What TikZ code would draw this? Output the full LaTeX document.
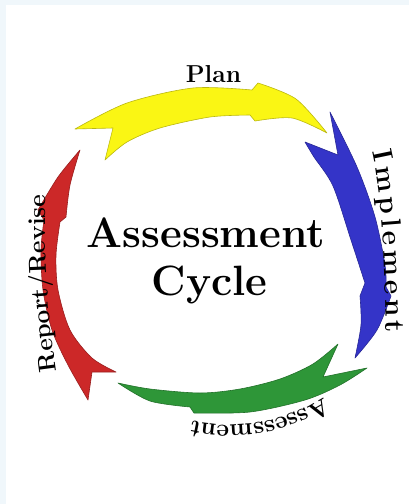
\documentclass[tikz,border=0pt]{standalone}
\usetikzlibrary{decorations.text}

\definecolor{framecol}{RGB}{240,247,251}
\definecolor{planyellow}{RGB}{250,246,20}
\definecolor{implblue}{RGB}{52,52,200}
\definecolor{assessgreen}{RGB}{46,150,56}
\definecolor{revisered}{RGB}{204,40,40}

\newcommand\titlefont{\fontsize{42.4}{48}\selectfont\bfseries}
\newcommand\labelfont{\fontsize{24.5}{29}\selectfont\bfseries}
\newcommand\biglabelfont{\fontsize{28}{33}\selectfont\bfseries}

\begin{document}
\begin{tikzpicture}[x=1pt, y=-1pt,
  stage/.style={fill=#1, draw=#1!75!black, line width=0.6pt, line join=round},
  steplabel/.style={decorate, decoration={text along path, text align=center,
      text={|\labelfont|#1}}}]

  % light frame on the top and left, white sheet
  \fill[framecol] (0,0) rectangle (409,504);
  \fill[white] (6,5) rectangle (409,504);
  \useasboundingbox (0,0) rectangle (409,504);

  % Plan arrow (yellow, top)
  \fill[stage=planyellow] (75,129)
    -- plot[smooth] coordinates {(75,129) (127,103) (193,88) (252,90)}
    -- (258,83)
    -- plot[smooth] coordinates {(258,83) (296,99) (327,133)}
    -- plot[smooth] coordinates {(327,133) (292,118) (255,121)}
    -- (250,115)
    -- plot[smooth] coordinates {(250,115) (210,117) (160,128) (127,142) (105,160)}
    -- (113,128) -- cycle;

  % Implement arrow (blue, right)
  \fill[stage=implblue] (330,112)
    -- plot[smooth] coordinates {(330,112) (357,167) (375,217) (385,265) (386,287)}
    -- (391,296)
    -- plot[smooth] coordinates {(391,296) (377,330) (355,358)}
    -- plot[smooth] coordinates {(355,358) (361,325) (360,296)}
    -- (365,283)
    -- plot[smooth] coordinates {(365,283) (351,240) (333,186) (314,157) (305,142)}
    -- (338,155) -- cycle;

  % Assessment arrow (green, bottom)
  \fill[stage=assessgreen] (338,344)
    -- plot[smooth] coordinates {(338,344) (313,364) (280,379) (240,389) (200,393) (150,389) (118,383)}
    -- plot[smooth] coordinates {(118,383) (150,401) (190,407)}
    -- (194,413)
    -- plot[smooth] coordinates {(194,413) (250,412) (305,400) (340,385) (367,368)}
    -- (323,377) -- cycle;

  % Report/Revise arrow (red, left)
  \fill[stage=revisered] (88,400)
    -- plot[smooth] coordinates {(88,400) (68,365) (52,330) (43,290) (41,250) (44,220)}
    -- (38,210)
    -- plot[smooth] coordinates {(38,210) (58,177) (80,150)}
    -- plot[smooth] coordinates {(80,150) (70,185) (66,217)}
    -- (60,222)
    -- plot[smooth] coordinates {(60,222) (56,255) (58,290) (70,330) (92,358) (116,372)}
    -- (92,372) -- cycle;

  % title in the middle
  \node[anchor=base, font=\titlefont, inner sep=0pt] (title) at (206,247) {Assessment};
  \node[anchor=base, font=\titlefont, inner sep=0pt] (cycle) at (209.5,295) {Cycle};

  % stage labels round the ring
  \node[anchor=base, font=\labelfont, inner sep=0pt] (plan) at (213.5,82) {Plan};
  \path[steplabel=Implement,
        decoration={text align={fit to path}, text={|\biglabelfont|Implement}}]
    (372,152) .. controls (382,195) and (385,265) .. (386,333);
  \path[steplabel=Assessment]
    (335,389) .. controls (290,424) and (231,434) .. (178,417);
  \path[steplabel=Report/Revise]
    (58,384) .. controls (48,320) and (43,250) .. (46,182);

\end{tikzpicture}
\end{document}
